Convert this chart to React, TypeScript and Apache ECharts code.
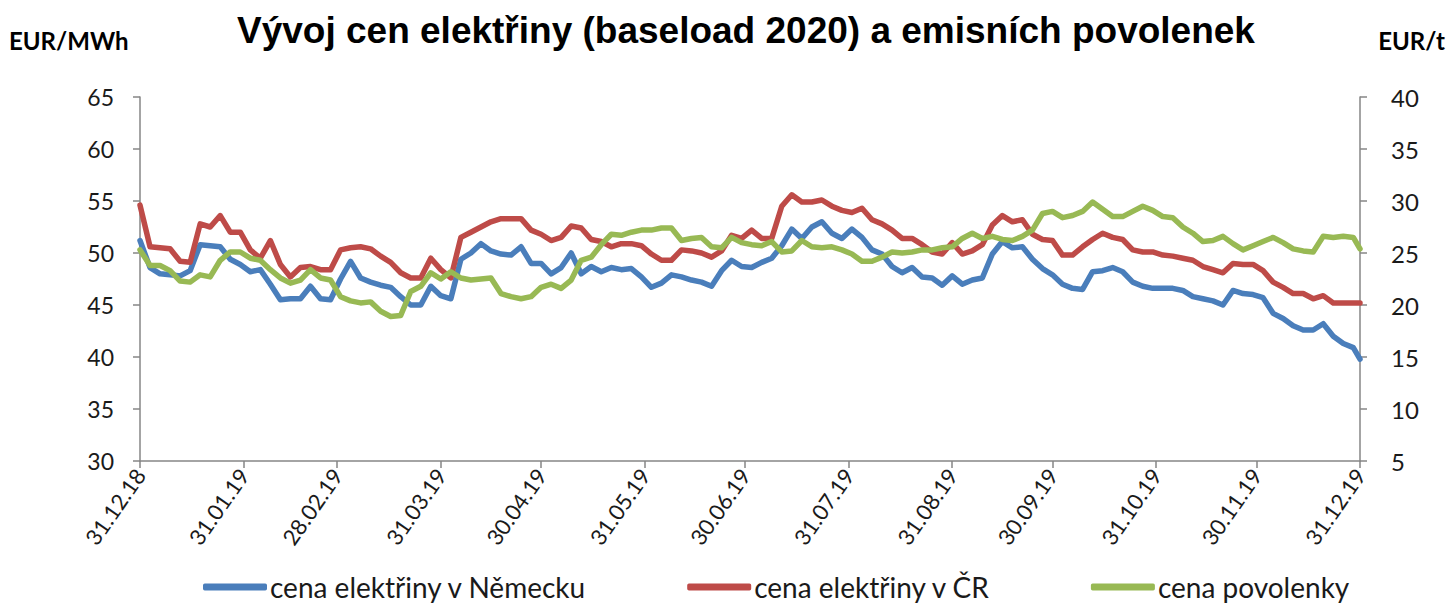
import React, { useEffect, useRef } from "react";
import * as echarts from "echarts";

const titleText = "Vývoj cen elektřiny (baseload 2020) a emisních povolenek";
const leftUnit = "EUR/MWh";
const rightUnit = "EUR/t";
const seriesNames = ["cena elektřiny v Německu", "cena elektřiny v ČR", "cena povolenky"];

const tickLabels = [
  "31.12.18", "31.01.19", "28.02.19", "31.03.19", "30.04.19", "31.05.19", "30.06.19",
  "31.07.19", "31.08.19", "30.09.19", "31.10.19", "30.11.19", "31.12.19",
];

// sample points every 3 calendar days from 31.12.18, plus 31.12.19
const sampleStep = 3;
const sampleCount = 122;
const lastDay = 365;

const germany = [
  51.2, 48.6, 48.0, 47.9, 47.8, 48.3, 50.8, 50.7, 50.6, 49.4, 48.9, 48.2, 48.4, 47.0, 45.5, 45.6, 45.6, 46.8, 45.6, 45.5, 47.5,
  49.2, 47.6, 47.2, 46.9, 46.7, 45.8, 45.0, 45.0, 46.8, 45.9, 45.6, 49.4, 50.0, 50.9, 50.2, 49.9, 49.8, 50.6, 49.0, 49.0,
  48.0, 48.6, 50.0, 48.0, 48.7, 48.2, 48.6, 48.4, 48.5, 47.7, 46.7, 47.1, 47.9, 47.7, 47.4, 47.2, 46.8, 48.3, 49.3, 48.7, 48.6,
  49.1, 49.5, 50.7, 52.3, 51.4, 52.5, 53.0, 51.9, 51.4, 52.3, 51.5, 50.3, 49.9, 48.7, 48.1, 48.6, 47.7, 47.6, 46.9, 47.8,
  47.0, 47.4, 47.6, 49.9, 51.1, 50.5, 50.6, 49.4, 48.5, 47.9, 47.0, 46.6, 46.5, 48.2, 48.3, 48.6, 48.2, 47.2, 46.8, 46.6, 46.6,
  46.6, 46.4, 45.8, 45.6, 45.4, 45.0, 46.4, 46.1, 46.0, 45.7, 44.2, 43.7, 43.0, 42.6, 42.6, 43.2, 42.0, 41.3, 40.9, 39.8,
];

const czech = [
  54.6, 50.6, 50.5, 50.4, 49.2, 49.1, 52.8, 52.5, 53.6, 52.0, 52.0, 50.3, 49.5, 51.2, 48.9, 47.7, 48.6, 48.7, 48.4, 48.4, 50.3,
  50.5, 50.6, 50.4, 49.7, 49.1, 48.1, 47.6, 47.6, 49.5, 48.4, 47.6, 51.5, 52.0, 52.5, 53.0, 53.3, 53.3, 53.3, 52.2, 51.8,
  51.2, 51.5, 52.6, 52.4, 51.3, 51.1, 50.6, 50.9, 50.9, 50.7, 49.9, 49.3, 49.3, 50.3, 50.2, 50.0, 49.6, 50.2, 51.7, 51.4, 52.2,
  51.4, 51.4, 54.5, 55.6, 54.9, 54.9, 55.1, 54.5, 54.1, 53.9, 54.3, 53.2, 52.8, 52.2, 51.4, 51.4, 50.8, 50.1, 49.9, 51.0,
  49.9, 50.2, 50.8, 52.7, 53.6, 53.0, 53.2, 51.8, 51.3, 51.2, 49.8, 49.8, 50.6, 51.3, 51.9, 51.5, 51.3, 50.3, 50.1, 50.1, 49.8,
  49.7, 49.5, 49.3, 48.7, 48.4, 48.1, 49.0, 48.9, 48.9, 48.3, 47.2, 46.7, 46.1, 46.1, 45.6, 45.9, 45.2, 45.2, 45.2, 45.2,
];

const allowance = [
  25.3, 23.8, 23.8, 23.3, 22.3, 22.2, 22.9, 22.7, 24.3, 25.1, 25.1, 24.5, 24.3, 23.4, 22.6, 22.1, 22.4, 23.4, 22.6, 22.4, 20.8,
  20.4, 20.2, 20.3, 19.4, 18.9, 19.0, 21.3, 21.8, 23.1, 22.5, 23.2, 22.6, 22.4, 22.5, 22.6, 21.1, 20.8, 20.6, 20.8, 21.7,
  22.0, 21.6, 22.4, 24.3, 24.6, 25.8, 26.8, 26.7, 27.0, 27.2, 27.2, 27.4, 27.4, 26.2, 26.4, 26.5, 25.6, 25.5, 26.5, 26.0, 25.8,
  25.7, 26.1, 25.1, 25.2, 26.2, 25.6, 25.5, 25.6, 25.3, 24.9, 24.2, 24.2, 24.6, 25.1, 25.0, 25.1, 25.3, 25.3, 25.5, 25.6,
  26.4, 26.9, 26.4, 26.6, 26.3, 26.2, 26.6, 27.2, 28.8, 29.0, 28.4, 28.6, 29.0, 29.9, 29.2, 28.5, 28.5, 29.0, 29.5, 29.1, 28.5,
  28.4, 27.5, 26.9, 26.1, 26.2, 26.6, 25.9, 25.3, 25.7, 26.1, 26.5, 26.0, 25.4, 25.2, 25.1, 26.6, 26.5, 26.6, 26.5, 25.4,
];

const colors = ["#4A7EBB", "#BE4B48", "#98B954"];

function dayOf(label: string): number {
  const [dd, mm, yy] = label.split(".").map(Number);
  return Math.round((Date.UTC(2000 + yy, mm - 1, dd) - Date.UTC(2018, 11, 31)) / 86400000);
}

export default function App() {
  const ref = useRef<HTMLDivElement>(null);
  useEffect(() => {
    document.body.style.margin = "0";
    if (!ref.current) return;
    const chart = echarts.init(ref.current, null, { renderer: "svg" });
    const days = Array.from({ length: sampleCount }, (_, i) => i * sampleStep).concat([lastDay]);
    const tickDays = tickLabels.map(dayOf);
    const labelMap: Record<number, string> = {};
    tickDays.forEach((d, i) => (labelMap[d] = tickLabels[i]));
    const mk = (arr: number[]) => days.map((d, i) => [d, arr[i]]);
    const axisFont = { fontFamily: "Lato", color: "#1a1a1a" };
    chart.setOption({
      animation: false,
      backgroundColor: "#fff",
      title: [
        {
          text: titleText,
          left: 232,
          top: 7,
          textStyle: { fontFamily: "Liberation Sans", fontWeight: "bold", fontSize: 37, color: "#000" },
        },
        {
          text: leftUnit,
          left: 4,
          top: 23,
          textStyle: { fontFamily: "Lato", fontWeight: "bold", fontSize: 24, color: "#000" },
        },
        {
          text: rightUnit,
          right: 4,
          top: 23,
          textStyle: { fontFamily: "Lato", fontWeight: "bold", fontSize: 24, color: "#000" },
        },
      ],
      legend: {
        bottom: 0,
        left: 198,
        itemGap: 100,
        itemWidth: 64,
        itemHeight: 7,
        icon: "roundRect",
        textStyle: { fontFamily: "Lato", fontSize: 28, color: "#1a1a1a", padding: [0, 0, 0, -2] },
        data: seriesNames,
      },
      grid: { left: 140, right: 94, top: 97, bottom: 145 },
      xAxis: {
        type: "value",
        min: 0,
        max: lastDay,
        splitLine: { show: false },
        axisLine: { lineStyle: { color: "#868686", width: 1.5 } },
        axisTick: { customValues: tickDays, length: 7, lineStyle: { color: "#868686", width: 1.5 } },
        axisLabel: {
          customValues: tickDays,
          rotate: 55,
          margin: 10,
          fontSize: 22,
          ...axisFont,
          formatter: (v: number) => labelMap[Math.round(v)] ?? "",
        },
      },
      yAxis: [
        {
          type: "value",
          min: 30,
          max: 65,
          interval: 5,
          splitLine: { show: false },
          axisLine: { show: true, lineStyle: { color: "#868686", width: 1.5 } },
          axisTick: { show: true, length: 7, lineStyle: { color: "#868686", width: 1.5 } },
          axisLabel: { fontSize: 23, margin: 26, ...axisFont },
        },
        {
          type: "value",
          min: 5,
          max: 40,
          interval: 5,
          position: "right",
          splitLine: { show: false },
          axisLine: { show: true, lineStyle: { color: "#868686", width: 1.5 } },
          axisTick: { show: true, length: 7, lineStyle: { color: "#868686", width: 1.5 } },
          axisLabel: { fontSize: 24, margin: 31, ...axisFont },
        },
      ],
      series: [
        { name: seriesNames[0], data: mk(germany), color: colors[0] },
        { name: seriesNames[1], data: mk(czech), color: colors[1] },
        { name: seriesNames[2], data: mk(allowance), color: colors[2], yAxisIndex: 1 },
      ].map((s) => ({
        type: "line",
        showSymbol: false,
        symbol: "none",
        lineStyle: { width: 5.5, color: s.color, join: "round", cap: "round" },
        itemStyle: { color: s.color },
        ...s,
      })),
    });
    return () => chart.dispose();
  }, []);
  return <div ref={ref} style={{ width: 1454, height: 606 }} />;
}
